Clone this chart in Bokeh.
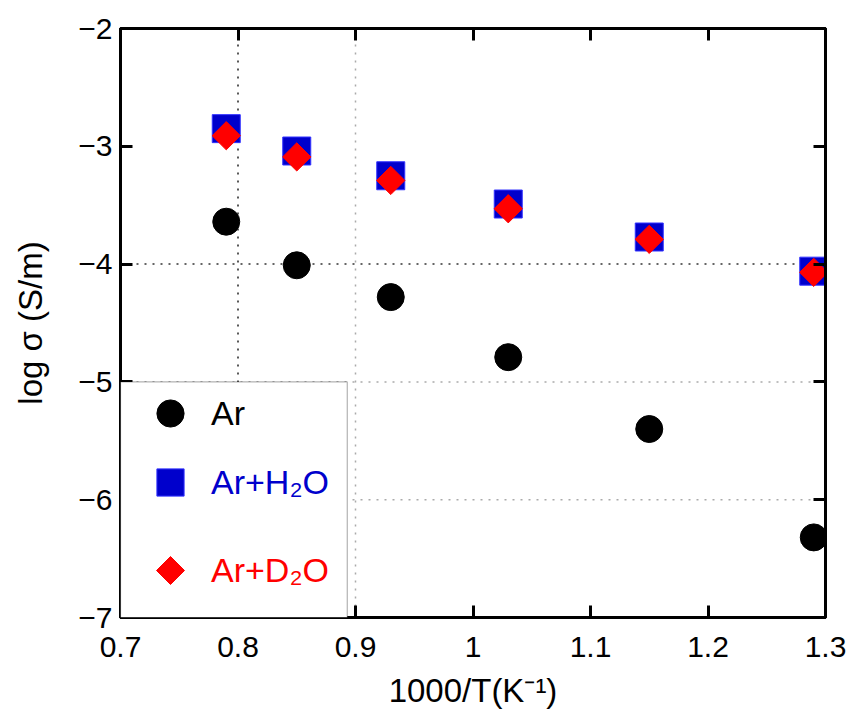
import math
from bokeh.plotting import figure
from bokeh.models import (Range1d, FixedTicker, LinearAxis, Span, BoxAnnotation,
                          Legend, LegendItem, PolyAnnotation)
from bokeh.embed import file_html
from bokeh.resources import INLINE

# ---- data ----
x_vals = [0.79, 0.85, 0.93, 1.03, 1.15, 1.29]
ar = [-3.64, -4.01, -4.28, -4.79, -5.40, -6.32]
ar_h2o = [-2.85, -3.04, -3.25, -3.49, -3.77, -4.06]
ar_d2o = [-2.91, -3.09, -3.29, -3.53, -3.79, -4.07]

series_labels = ["Ar", "Ar+H\u2082O", "Ar+D\u2082O"]

x_ticks = [0.7, 0.8, 0.9, 1.0, 1.1, 1.2, 1.3]
x_tick_labels = ["0.7", "0.8", "0.9", "1", "1.1", "1.2", "1.3"]
y_ticks = [-7, -6, -5, -4, -3, -2]
y_tick_labels = ["\u22127", "\u22126", "\u22125", "\u22124", "\u22123", "\u22122"]

grid_x_dark = [0.8]
grid_x_light = [0.9]
grid_y_dark = [-4]
grid_y_light = [-5, -6]

FONT = "Liberation Sans"

p = figure(width=850, height=711, output_backend="svg", toolbar_location=None,
           x_range=Range1d(0.7, 1.3), y_range=Range1d(-7, -2),
           min_border_left=120, min_border_top=28, min_border_right=25,
           min_border_bottom=94)

p.background_fill_color = "white"
p.border_fill_color = "white"
p.outline_line_color = "black"
p.outline_line_width = 3
p.xgrid.visible = False
p.ygrid.visible = False


def style_axis(ax, ticks, overrides, show_labels=True, standoff=7):
    ax.ticker = FixedTicker(ticks=ticks)
    ax.major_tick_in = 12
    ax.major_tick_out = 0
    ax.minor_tick_in = 0
    ax.minor_tick_out = 0
    ax.major_tick_line_width = 3
    ax.major_tick_line_color = "black"
    ax.axis_line_width = 3
    ax.axis_line_color = "black"
    ax.major_label_text_font = FONT
    ax.major_label_text_color = "black"
    if show_labels:
        ax.major_label_overrides = overrides
        ax.major_label_text_font_size = "30px"
        ax.major_label_standoff = standoff
    else:
        ax.major_label_overrides = {t: "" for t in ticks}
        ax.major_label_text_font_size = "1px"
        ax.major_label_standoff = 0


xo = dict(zip(x_ticks, x_tick_labels))
yo = dict(zip(y_ticks, y_tick_labels))

style_axis(p.xaxis[0], x_ticks, xo, standoff=19)
style_axis(p.yaxis[0], y_ticks, yo, standoff=8)
p.xaxis.axis_label = "1000/T(K\u207b\u00b9)"
p.yaxis.axis_label = "log \u03c3 (S/m)"
for ax in (p.xaxis[0], p.yaxis[0]):
    ax.axis_label_text_font = FONT
    ax.axis_label_text_font_size = "33px"
    ax.axis_label_text_font_style = "normal"
    ax.axis_label_text_color = "black"
p.xaxis[0].axis_label_standoff = 12
p.yaxis[0].axis_label_standoff = 26

top_ax = LinearAxis()
style_axis(top_ax, x_ticks, xo, show_labels=False)
p.add_layout(top_ax, "above")
right_ax = LinearAxis()
style_axis(right_ax, y_ticks, yo, show_labels=False)
p.add_layout(right_ax, "right")

# dotted grid lines
for loc in grid_x_dark:
    p.add_layout(Span(location=loc, dimension="height", line_color="#222222",
                      line_width=1.5, line_dash="2 6", level="underlay"))
for loc in grid_x_light:
    p.add_layout(Span(location=loc, dimension="height", line_color="#aaaaaa",
                      line_width=1.5, line_dash="2 6", level="underlay"))
for loc in grid_y_dark:
    p.add_layout(Span(location=loc, dimension="width", line_color="#333333",
                      line_width=1.5, line_dash="2 6", level="underlay"))
for loc in grid_y_light:
    p.add_layout(Span(location=loc, dimension="width", line_color="#aaaaaa",
                      line_width=1.5, line_dash="2 6", level="underlay"))

r_ar = p.scatter(x_vals, ar, marker="circle", size=27, fill_color="black",
                 line_color="black")
r_h2o = p.scatter(x_vals, ar_h2o, marker="square", size=28, fill_color="#0000cc",
                  line_color="#3333ff", line_width=1)
r_d2o = p.scatter(x_vals, ar_d2o, marker="square", size=20, angle=math.pi / 4,
                  fill_color="#ff0000", line_color="#ff0000")
# stand-in (empty, invisible) renderer for the diamond legend row
r_d2o_key = p.scatter([], [], marker="square", size=1, alpha=0)

# legend box
p.add_layout(BoxAnnotation(left=0.7, right=0.893, bottom=-7, top=-5.0,
                           fill_color="white", fill_alpha=1.0,
                           line_color="black", line_width=1.2,
                           level="annotation"))

legend_specs = [
    (r_ar, series_labels[0], "black", 170),
    (r_h2o, series_labels[1], "#0000cc", 101),
    (r_d2o_key, series_labels[2], "#ff0000", 13),
]
for rend, lab, col, ypos in legend_specs:
    lg = Legend(items=[LegendItem(label=lab, renderers=[rend])],
                location=(16, ypos), margin=0, padding=0,
                glyph_width=68, glyph_height=68, label_standoff=7,
                label_text_font=FONT, label_text_font_size="34px",
                label_text_color=col, border_line_alpha=0,
                background_fill_alpha=0, label_height=40)
    p.add_layout(lg, "center")

# diamond key, in pixels from the frame's bottom-left corner
cx, cy, h = 50, 47, 14
p.add_layout(PolyAnnotation(xs=[cx - h, cx, cx + h, cx], ys=[cy, cy - h, cy, cy + h],
                            xs_units="screen", ys_units="screen",
                            fill_color="#ff0000", fill_alpha=1.0,
                            line_color="#ff0000", line_alpha=1.0))

open("out.html", "w").write(file_html(p, INLINE))
